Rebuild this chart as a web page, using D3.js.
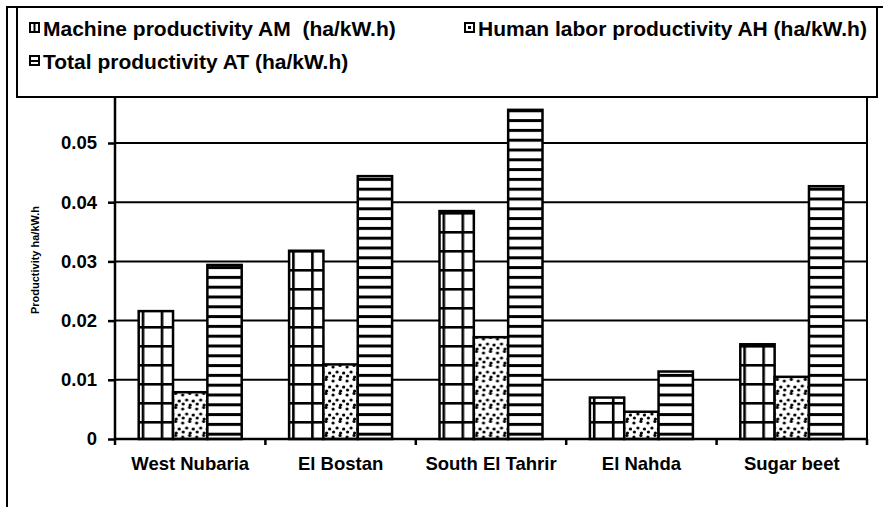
<!DOCTYPE html>
<html>
<head>
<meta charset="utf-8">
<script src="https://cdn.jsdelivr.net/npm/d3@7"></script>
<style>
  html, body { margin: 0; padding: 0; background: #fff; }
  svg { display: block; font-family: "Liberation Sans", Arial, sans-serif; }
</style>
</head>
<body>
<div id="chart"></div>
<script>
// data
const sites = ["West Nubaria", "El Bostan", "South El Tahrir", "El Nahda", "Sugar beet"];
const seriesKeys = ["AM", "AH", "AT"];
const seriesNames = [
  "Machine productivity AM  (ha/kW.h)",
  "Human labor productivity AH (ha/kW.h)",
  "Total productivity AT (ha/kW.h)",
];
const machineAM = [0.0216, 0.0318, 0.0385, 0.0070, 0.0160];
const humanAH = [0.0079, 0.0126, 0.0172, 0.0046, 0.0105];
const totalAT = [0.0294, 0.0444, 0.0556, 0.0114, 0.0427];
const yTicks = [0, 0.01, 0.02, 0.03, 0.04, 0.05];

const W = 883, H = 507;
const plot = { left: 115, right: 867, top: 97, bottom: 439 };

const svg = d3.select("#chart").append("svg").attr("width", W).attr("height", H);
const defs = svg.append("defs");

// fill patterns
let p = defs.append("pattern").attr("id", "pAM").attr("patternUnits", "userSpaceOnUse")
  .attr("width", 19).attr("height", 19).attr("x", 3).attr("y", 3);
p.append("rect").attr("width", 19).attr("height", 19).attr("fill", "#fff");
p.append("rect").attr("x", 0).attr("y", 0).attr("width", 2.6).attr("height", 19).attr("fill", "#000");
p.append("rect").attr("x", 0).attr("y", 0).attr("width", 19).attr("height", 2.6).attr("fill", "#000");

p = defs.append("pattern").attr("id", "pAH").attr("patternUnits", "userSpaceOnUse")
  .attr("width", 14).attr("height", 14);
p.append("rect").attr("width", 14).attr("height", 14).attr("fill", "#fff");
[[2, 3], [9, 1.5], [6, 8], [12.5, 9], [2.5, 12], [9.5, 13]].forEach(([cx, cy]) =>
  p.append("circle").attr("cx", cx).attr("cy", cy).attr("r", 1.6).attr("fill", "#000"));

p = defs.append("pattern").attr("id", "pAT").attr("patternUnits", "userSpaceOnUse")
  .attr("width", 10).attr("height", 9.8).attr("y", 1.5);
p.append("rect").attr("width", 10).attr("height", 9.8).attr("fill", "#fff");
p.append("rect").attr("width", 10).attr("height", 3).attr("fill", "#000");

const fills = { AM: "url(#pAM)", AH: "url(#pAH)", AT: "url(#pAT)" };

// outer frame
svg.append("path").attr("d", `M7,${H} V7 H${W}`).attr("fill", "none")
  .attr("stroke", "#000").attr("stroke-width", 2);

// scales
const x0 = d3.scaleBand().domain(sites).range([plot.left, plot.right]).padding(0);
const groupW = 103;
const x1 = d3.scaleBand().domain(seriesKeys).range([0, groupW]).padding(0);
const y = d3.scaleLinear().domain([0, 0.05]).range([plot.bottom, 143]);

// gridlines
svg.append("g").selectAll("line").data(yTicks.slice(1)).join("line")
  .attr("x1", plot.left).attr("x2", plot.right)
  .attr("y1", (d) => y(d)).attr("y2", (d) => y(d))
  .attr("stroke", "#000").attr("stroke-width", 2);

// plot right border
svg.append("line").attr("x1", plot.right).attr("x2", plot.right)
  .attr("y1", plot.top).attr("y2", plot.bottom)
  .attr("stroke", "#000").attr("stroke-width", 2);

// bars
const rows = sites.map((s, i) => ({ site: s, AM: machineAM[i], AH: humanAH[i], AT: totalAT[i] }));
const off = (x0.bandwidth() - groupW) / 2;
svg.append("g").selectAll("g").data(rows).join("g")
  .attr("transform", (d) => `translate(${x0(d.site) + off},0)`)
  .selectAll("rect")
  .data((d) => seriesKeys.map((k) => ({ key: k, value: d[k] })))
  .join("rect")
  .attr("x", (d) => x1(d.key))
  .attr("y", (d) => y(d.value))
  .attr("width", x1.bandwidth())
  .attr("height", (d) => plot.bottom - y(d.value))
  .attr("fill", (d) => fills[d.key])
  .attr("stroke", "#000").attr("stroke-width", 2.5);

// y axis
const axisY = svg.append("g").attr("transform", `translate(${plot.left},0)`)
  .call(d3.axisLeft(y).tickValues(yTicks).tickSize(7).tickPadding(11)
    .tickFormat((d) => (d === 0 ? "0" : d3.format(".2f")(d))));
axisY.select(".domain").remove();
axisY.selectAll(".tick line").attr("stroke", "#000").attr("stroke-width", 2.5);
axisY.selectAll("text").attr("font-size", 18.5).attr("font-weight", "bold")
  .attr("font-family", "Liberation Sans, Arial, sans-serif").attr("fill", "#000");
svg.append("line").attr("x1", plot.left).attr("x2", plot.left)
  .attr("y1", plot.top).attr("y2", plot.bottom + 1)
  .attr("stroke", "#000").attr("stroke-width", 2.5);

// x axis
svg.append("line").attr("x1", plot.left).attr("x2", plot.right)
  .attr("y1", plot.bottom).attr("y2", plot.bottom)
  .attr("stroke", "#000").attr("stroke-width", 2.5);
const bounds = sites.map((s) => x0(s)).concat([plot.right]);
svg.append("g").selectAll("line").data(bounds).join("line")
  .attr("x1", (d) => d).attr("x2", (d) => d)
  .attr("y1", plot.bottom).attr("y2", plot.bottom + 6)
  .attr("stroke", "#000").attr("stroke-width", 2.5);
svg.append("g").selectAll("text").data(sites).join("text")
  .attr("x", (d) => x0(d) + x0.bandwidth() / 2)
  .attr("y", 470)
  .attr("text-anchor", "middle")
  .attr("font-size", 18.5).attr("font-weight", "bold")
  .text((d) => d);

// y axis title
svg.append("text")
  .attr("transform", `translate(39,260) rotate(-90)`)
  .attr("text-anchor", "middle")
  .attr("font-size", 11).attr("font-weight", "bold")
  .text("Productivity ha/kW.h");

// legend
const legend = svg.append("g");
legend.append("rect").attr("x", 17).attr("y", 7).attr("width", 860).attr("height", 90)
  .attr("fill", "#fff").attr("stroke", "#000").attr("stroke-width", 2);
const legendPos = [[30, 36], [465, 36], [30, 69]];
seriesKeys.forEach((k, i) => {
  const [lx, ly] = legendPos[i];
  const ic = legend.append("g").attr("transform", `translate(${lx},${ly - 13})`);
  ic.append("rect").attr("x", 0).attr("y", 0).attr("width", 9).attr("height", 9)
    .attr("fill", "#fff").attr("stroke", "#000").attr("stroke-width", 2);
  // small swatch marks standing in for the fill pattern
  if (k === "AM") ic.append("line").attr("x1", 4.5).attr("x2", 4.5).attr("y1", 0).attr("y2", 9)
    .attr("stroke", "#000").attr("stroke-width", 2);
  if (k === "AH") ic.append("rect").attr("x", 3).attr("y", 3).attr("width", 3).attr("height", 3).attr("fill", "#000");
  if (k === "AT") ic.append("line").attr("x1", 0).attr("x2", 9).attr("y1", 5).attr("y2", 5)
    .attr("stroke", "#000").attr("stroke-width", 2);
  legend.append("text").attr("x", lx + 13).attr("y", ly)
    .attr("font-size", 21).attr("font-weight", "bold")
    .style("white-space", "pre")
    .text(seriesNames[i]);
});
</script>
</body>
</html>
